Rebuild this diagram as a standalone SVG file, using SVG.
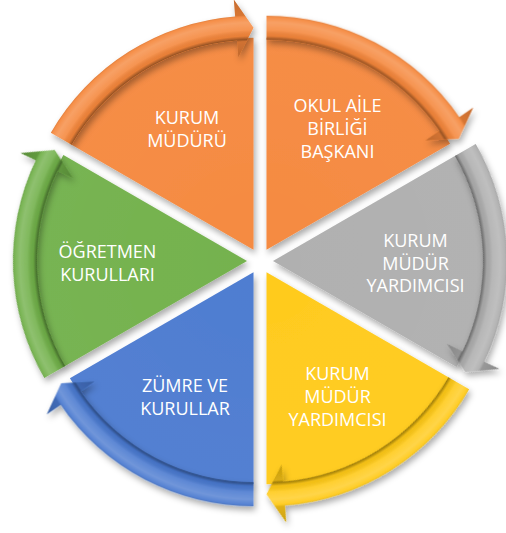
<svg xmlns="http://www.w3.org/2000/svg" width="506" height="533" viewBox="0 0 506 533">
<defs>
<style>
.lbl{fill:#fff;font-family:"Open Sans","Liberation Sans",sans-serif;font-size:18px;text-anchor:middle}
</style>
<filter id="sh" x="-20%" y="-20%" width="140%" height="140%">
<feDropShadow dx="2" dy="4" stdDeviation="3" flood-color="#000" flood-opacity="0.33"/>
</filter>
<path id="body" d="M0,0 L212,0 A212,212 0 0 1 106,183.6 Z"/>
<path id="arrow" d="M234,0 A234,234 0 0 1 132.54,192.85 L142.17,206.86 L111,192.26 L109.32,159.06 L118.95,173.07 A210,210 0 0 0 210,0 Z"/>
<radialGradient id="bevel" gradientUnits="userSpaceOnUse" cx="0" cy="0" r="251">
<stop offset="0.769" stop-color="#000" stop-opacity="0.22"/>
<stop offset="0.83" stop-color="#000" stop-opacity="0.15"/>
<stop offset="0.838" stop-color="#000" stop-opacity="0.38"/>
<stop offset="0.852" stop-color="#000" stop-opacity="0.05"/>
<stop offset="0.875" stop-color="#fff" stop-opacity="0.12"/>
<stop offset="0.905" stop-color="#fff" stop-opacity="0.22"/>
<stop offset="0.925" stop-color="#fff" stop-opacity="0.08"/>
<stop offset="0.935" stop-color="#000" stop-opacity="0.12"/>
<stop offset="1" stop-color="#000" stop-opacity="0.2"/>
</radialGradient>
<radialGradient id="bshade" gradientUnits="userSpaceOnUse" cx="0" cy="0" r="212">
<stop offset="0" stop-color="#fff" stop-opacity="0.04"/>
<stop offset="1" stop-color="#fff" stop-opacity="0.06"/>
</radialGradient>
</defs>
<rect width="506" height="533" fill="#fff"/>

<g id="n1">
<g filter="url(#sh)"><g transform="translate(253.5,249.74) rotate(-150)"><use href="#body" fill="#F5863A"/><use href="#body" fill="url(#bshade)"/></g></g>
<text class="lbl" x="187" y="124">KURUM</text>
<text class="lbl" x="187" y="147">MÜDÜRÜ</text>
</g>
<g id="n2">
<g filter="url(#sh)"><g transform="translate(266.5,249.74) rotate(-90)"><use href="#body" fill="#F5863A"/><use href="#body" fill="url(#bshade)"/></g></g>
<text class="lbl" x="337.5" y="112">OKUL AİLE</text>
<text class="lbl" x="337.5" y="135">BİRLİĞİ</text>
<text class="lbl" x="337.5" y="158">BAŞKANI</text>
</g>
<g id="n3">
<g filter="url(#sh)"><g transform="translate(273,261) rotate(-30)"><use href="#body" fill="#ADADAD"/><use href="#body" fill="url(#bshade)"/></g></g>
<text class="lbl" x="415.5" y="247">KURUM</text>
<text class="lbl" x="415.5" y="269.5">MÜDÜR</text>
<text class="lbl" x="415.5" y="292">YARDIMCISI</text>
</g>
<g id="n4">
<g filter="url(#sh)"><g transform="translate(266.5,272.26) rotate(30)"><use href="#body" fill="#FFC915"/><use href="#body" fill="url(#bshade)"/></g></g>
<text class="lbl" x="337.5" y="380">KURUM</text>
<text class="lbl" x="337.5" y="403">MÜDÜR</text>
<text class="lbl" x="337.5" y="426">YARDIMCISI</text>
</g>
<g id="n5">
<g filter="url(#sh)"><g transform="translate(253.5,272.26) rotate(90)"><use href="#body" fill="#4878CF"/><use href="#body" fill="url(#bshade)"/></g></g>
<text class="lbl" x="185" y="392">ZÜMRE VE</text>
<text class="lbl" x="185" y="415">KURULLAR</text>
</g>
<g id="n6">
<g filter="url(#sh)"><g transform="translate(247,261) rotate(150)"><use href="#body" fill="#6FAF47"/><use href="#body" fill="url(#bshade)"/></g></g>
<text class="lbl" x="107.5" y="258">ÖĞRETMEN</text>
<text class="lbl" x="107.5" y="281">KURULLARI</text>
</g>

<g id="connectors" filter="url(#sh)">
<g transform="translate(253.5,249.74) rotate(-150)"><use href="#arrow" fill="#F5863A"/><use href="#arrow" fill="url(#bevel)"/></g>
<g transform="translate(266.5,249.74) rotate(-90)"><use href="#arrow" fill="#F5863A"/><use href="#arrow" fill="url(#bevel)"/></g>
<g transform="translate(273,261) rotate(-30)"><use href="#arrow" fill="#ADADAD"/><use href="#arrow" fill="url(#bevel)"/></g>
<g transform="translate(266.5,272.26) rotate(30)"><use href="#arrow" fill="#FFC915"/><use href="#arrow" fill="url(#bevel)"/></g>
<g transform="translate(253.5,272.26) rotate(90)"><use href="#arrow" fill="#4878CF"/><use href="#arrow" fill="url(#bevel)"/></g>
<g transform="translate(247,261) rotate(150)"><use href="#arrow" fill="#6FAF47"/><use href="#arrow" fill="url(#bevel)"/></g>
</g>
</svg>
